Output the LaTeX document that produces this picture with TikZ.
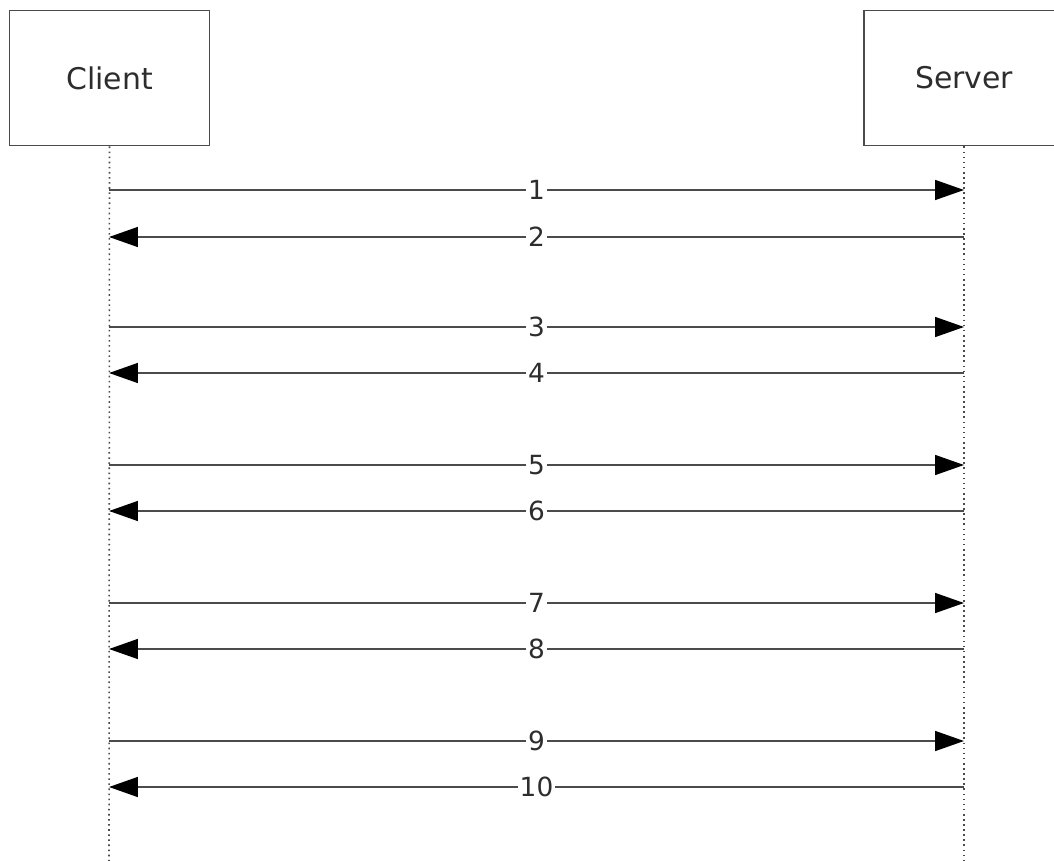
\documentclass[tikz,border=0pt]{standalone}
\usepackage{fontspec}
\setmainfont{DejaVu Sans}
\definecolor{linegray}{RGB}{75, 75, 75}
\definecolor{textgray}{RGB}{45, 45, 45}
\usetikzlibrary{arrows.meta, positioning}

\begin{document}
\begin{tikzpicture}[x=0.02cm, y=-0.02cm,
    party/.style={draw=linegray, line width=1.1pt, fill=white, minimum width=4cm,
      minimum height=2.7cm, inner sep=0pt, font=\fontsize{17}{20}\selectfont, text=textgray},
    lifeline/.style={draw=linegray, line width=0.9pt, dotted},
    msg/.style={draw=linegray, line width=0.9pt, -{Triangle[length=0.58cm, width=0.4cm, black]}},
    msglabel/.style={fill=white, inner sep=1pt, font=\fontsize{15}{18}\selectfont, text=textgray}]
  \clip (0,0) rectangle (1054,861);
  \fill[white] (0,0) rectangle (1054,861);

  % --- Participants ---
  \node[party] (client) at (109.5,78) {Client};
  \node[party] (server) at (964,78) {Server};

  % --- Lifelines ---
  \coordinate (clientend) at (109,861);
  \coordinate (serverend) at (964,861);
  \draw[lifeline] (client.south) -- (clientend);
  \draw[lifeline] (server.south) -- (serverend);

  % --- Messages ---
  \foreach \n/\y in {1/190, 2/237, 3/327, 4/373, 5/465, 6/511, 7/603, 8/649, 9/741, 10/787} {
    \coordinate (c\n) at (109,\y);
    \coordinate (s\n) at (964,\y);
  }
  \foreach \n in {1,3,5,7,9} {
    \draw[msg] (c\n) -- node[msglabel] {\n} (s\n);
  }
  \foreach \n in {2,4,6,8,10} {
    \draw[msg] (s\n) -- node[msglabel] {\n} (c\n);
  }
\end{tikzpicture}
\end{document}
